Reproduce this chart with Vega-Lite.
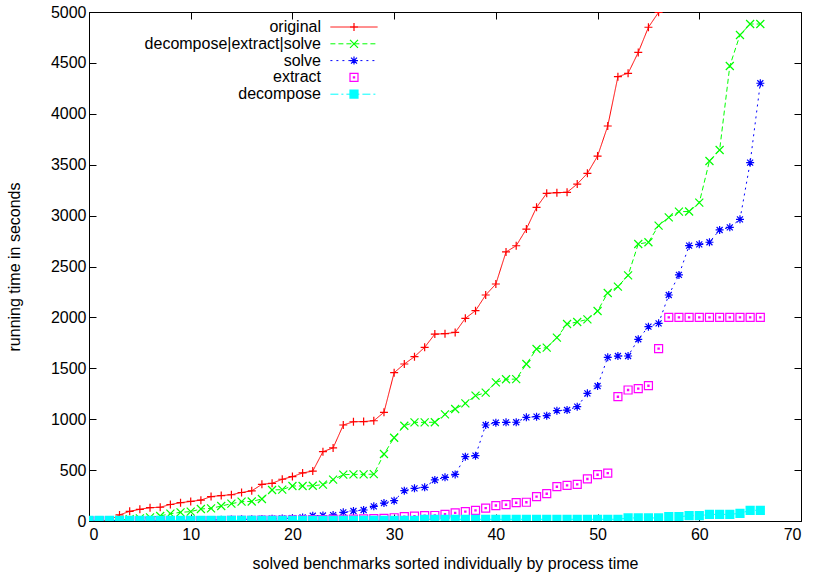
{
 "$schema": "https://vega.github.io/schema/vega-lite/v6.json",
 "width": 712, "height": 509,
 "autosize": {"type": "none"},
 "padding": {"left": 89, "top": 12, "right": 12, "bottom": 52},
 "background": "white",
 "config": {
  "view": {"stroke": "black", "strokeWidth": 1},
  "font": "Liberation Sans",
  "axis": {"grid": false, "domain": false, "tickColor": "black", "labelColor": "black", "titleColor": "black", "labelFontSize": 16, "titleFontSize": 16, "titleFontWeight": "normal", "tickSize": -7, "labelFont": "Liberation Sans", "titleFont": "Liberation Sans", "labelPadding": 10, "format": "d"}
 },
 "datasets": {
  "d": [
   {"s":"original","n":0,"t":2},{"s":"original","n":1,"t":3},{"s":"original","n":2,"t":8},{"s":"original","n":3,"t":60},{"s":"original","n":4,"t":95},{"s":"original","n":5,"t":115},{"s":"original","n":6,"t":131},{"s":"original","n":7,"t":135},{"s":"original","n":8,"t":162},{"s":"original","n":9,"t":180},{"s":"original","n":10,"t":192},
   {"s":"original","n":11,"t":205},{"s":"original","n":12,"t":240},{"s":"original","n":13,"t":250},{"s":"original","n":14,"t":258},{"s":"original","n":15,"t":280},{"s":"original","n":16,"t":296},{"s":"original","n":17,"t":360},{"s":"original","n":18,"t":370},{"s":"original","n":19,"t":410},{"s":"original","n":20,"t":436},
   {"s":"original","n":21,"t":472},{"s":"original","n":22,"t":490},{"s":"original","n":23,"t":681},{"s":"original","n":24,"t":718},{"s":"original","n":25,"t":943},{"s":"original","n":26,"t":975},{"s":"original","n":27,"t":977},{"s":"original","n":28,"t":985},{"s":"original","n":29,"t":1068},{"s":"original","n":30,"t":1457},
   {"s":"original","n":31,"t":1542},{"s":"original","n":32,"t":1614},{"s":"original","n":33,"t":1706},{"s":"original","n":34,"t":1836},{"s":"original","n":35,"t":1840},{"s":"original","n":36,"t":1852},{"s":"original","n":37,"t":1991},{"s":"original","n":38,"t":2066},{"s":"original","n":39,"t":2220},{"s":"original","n":40,"t":2328},
   {"s":"original","n":41,"t":2643},{"s":"original","n":42,"t":2704},{"s":"original","n":43,"t":2868},{"s":"original","n":44,"t":3081},{"s":"original","n":45,"t":3219},{"s":"original","n":46,"t":3225},{"s":"original","n":47,"t":3229},{"s":"original","n":48,"t":3310},{"s":"original","n":49,"t":3415},{"s":"original","n":50,"t":3585},
   {"s":"original","n":51,"t":3880},{"s":"original","n":52,"t":4365},{"s":"original","n":53,"t":4398},{"s":"original","n":54,"t":4603},{"s":"original","n":55,"t":4850},{"s":"original","n":56,"t":4997},

   {"s":"decompose|extract|solve","n":0,"t":2},{"s":"decompose|extract|solve","n":1,"t":3},{"s":"decompose|extract|solve","n":2,"t":5},{"s":"decompose|extract|solve","n":3,"t":10},{"s":"decompose|extract|solve","n":4,"t":18},{"s":"decompose|extract|solve","n":5,"t":26},{"s":"decompose|extract|solve","n":6,"t":36},{"s":"decompose|extract|solve","n":7,"t":49},{"s":"decompose|extract|solve","n":8,"t":72},{"s":"decompose|extract|solve","n":9,"t":85},{"s":"decompose|extract|solve","n":10,"t":92},
   {"s":"decompose|extract|solve","n":11,"t":118},{"s":"decompose|extract|solve","n":12,"t":124},{"s":"decompose|extract|solve","n":13,"t":147},{"s":"decompose|extract|solve","n":14,"t":170},{"s":"decompose|extract|solve","n":15,"t":190},{"s":"decompose|extract|solve","n":16,"t":192},{"s":"decompose|extract|solve","n":17,"t":216},{"s":"decompose|extract|solve","n":18,"t":305},{"s":"decompose|extract|solve","n":19,"t":308},{"s":"decompose|extract|solve","n":20,"t":344},
   {"s":"decompose|extract|solve","n":21,"t":344},{"s":"decompose|extract|solve","n":22,"t":346},{"s":"decompose|extract|solve","n":23,"t":358},{"s":"decompose|extract|solve","n":24,"t":406},{"s":"decompose|extract|solve","n":25,"t":455},{"s":"decompose|extract|solve","n":26,"t":458},{"s":"decompose|extract|solve","n":27,"t":458},{"s":"decompose|extract|solve","n":28,"t":460},{"s":"decompose|extract|solve","n":29,"t":658},{"s":"decompose|extract|solve","n":30,"t":818},
   {"s":"decompose|extract|solve","n":31,"t":936},{"s":"decompose|extract|solve","n":32,"t":969},{"s":"decompose|extract|solve","n":33,"t":969},{"s":"decompose|extract|solve","n":34,"t":970},{"s":"decompose|extract|solve","n":35,"t":1048},{"s":"decompose|extract|solve","n":36,"t":1100},{"s":"decompose|extract|solve","n":37,"t":1156},{"s":"decompose|extract|solve","n":38,"t":1231},{"s":"decompose|extract|solve","n":39,"t":1261},{"s":"decompose|extract|solve","n":40,"t":1362},
   {"s":"decompose|extract|solve","n":41,"t":1392},{"s":"decompose|extract|solve","n":42,"t":1394},{"s":"decompose|extract|solve","n":43,"t":1542},{"s":"decompose|extract|solve","n":44,"t":1690},{"s":"decompose|extract|solve","n":45,"t":1703},{"s":"decompose|extract|solve","n":46,"t":1801},{"s":"decompose|extract|solve","n":47,"t":1935},{"s":"decompose|extract|solve","n":48,"t":1955},{"s":"decompose|extract|solve","n":49,"t":1981},{"s":"decompose|extract|solve","n":50,"t":2063},
   {"s":"decompose|extract|solve","n":51,"t":2240},{"s":"decompose|extract|solve","n":52,"t":2302},{"s":"decompose|extract|solve","n":53,"t":2413},{"s":"decompose|extract|solve","n":54,"t":2721},{"s":"decompose|extract|solve","n":55,"t":2738},{"s":"decompose|extract|solve","n":56,"t":2901},{"s":"decompose|extract|solve","n":57,"t":2983},{"s":"decompose|extract|solve","n":58,"t":3039},{"s":"decompose|extract|solve","n":59,"t":3040},{"s":"decompose|extract|solve","n":60,"t":3127},
   {"s":"decompose|extract|solve","n":61,"t":3536},{"s":"decompose|extract|solve","n":62,"t":3644},{"s":"decompose|extract|solve","n":63,"t":4470},{"s":"decompose|extract|solve","n":64,"t":4774},{"s":"decompose|extract|solve","n":65,"t":4882},{"s":"decompose|extract|solve","n":66,"t":4882},

   {"s":"solve","n":0,"t":1},{"s":"solve","n":1,"t":1},{"s":"solve","n":2,"t":2},{"s":"solve","n":3,"t":2},{"s":"solve","n":4,"t":3},{"s":"solve","n":5,"t":3},{"s":"solve","n":6,"t":4},{"s":"solve","n":7,"t":5},{"s":"solve","n":8,"t":5},{"s":"solve","n":9,"t":6},{"s":"solve","n":10,"t":7},
   {"s":"solve","n":11,"t":8},{"s":"solve","n":12,"t":10},{"s":"solve","n":13,"t":12},{"s":"solve","n":14,"t":14},{"s":"solve","n":15,"t":16},{"s":"solve","n":16,"t":18},{"s":"solve","n":17,"t":20},{"s":"solve","n":18,"t":22},{"s":"solve","n":19,"t":25},{"s":"solve","n":20,"t":28},
   {"s":"solve","n":21,"t":35},{"s":"solve","n":22,"t":52},{"s":"solve","n":23,"t":54},{"s":"solve","n":24,"t":58},{"s":"solve","n":25,"t":85},{"s":"solve","n":26,"t":98},{"s":"solve","n":27,"t":108},{"s":"solve","n":28,"t":144},{"s":"solve","n":29,"t":176},{"s":"solve","n":30,"t":200},
   {"s":"solve","n":31,"t":298},{"s":"solve","n":32,"t":321},{"s":"solve","n":33,"t":331},{"s":"solve","n":34,"t":403},{"s":"solve","n":35,"t":429},{"s":"solve","n":36,"t":458},{"s":"solve","n":37,"t":632},{"s":"solve","n":38,"t":642},{"s":"solve","n":39,"t":943},{"s":"solve","n":40,"t":966},
   {"s":"solve","n":41,"t":969},{"s":"solve","n":42,"t":970},{"s":"solve","n":43,"t":1018},{"s":"solve","n":44,"t":1025},{"s":"solve","n":45,"t":1035},{"s":"solve","n":46,"t":1084},{"s":"solve","n":47,"t":1090},{"s":"solve","n":48,"t":1123},{"s":"solve","n":49,"t":1254},{"s":"solve","n":50,"t":1326},
   {"s":"solve","n":51,"t":1608},{"s":"solve","n":52,"t":1621},{"s":"solve","n":53,"t":1621},{"s":"solve","n":54,"t":1785},{"s":"solve","n":55,"t":1909},{"s":"solve","n":56,"t":1942},{"s":"solve","n":57,"t":2220},{"s":"solve","n":58,"t":2417},{"s":"solve","n":59,"t":2705},{"s":"solve","n":60,"t":2718},
   {"s":"solve","n":61,"t":2738},{"s":"solve","n":62,"t":2859},{"s":"solve","n":63,"t":2885},{"s":"solve","n":64,"t":2963},{"s":"solve","n":65,"t":3520},{"s":"solve","n":66,"t":4300},

   {"s":"extract","n":0,"t":1},{"s":"extract","n":1,"t":1},{"s":"extract","n":2,"t":1},{"s":"extract","n":3,"t":2},{"s":"extract","n":4,"t":2},{"s":"extract","n":5,"t":2},{"s":"extract","n":6,"t":2},{"s":"extract","n":7,"t":3},{"s":"extract","n":8,"t":3},{"s":"extract","n":9,"t":3},{"s":"extract","n":10,"t":4},
   {"s":"extract","n":11,"t":4},{"s":"extract","n":12,"t":5},{"s":"extract","n":13,"t":5},{"s":"extract","n":14,"t":6},{"s":"extract","n":15,"t":6},{"s":"extract","n":16,"t":7},{"s":"extract","n":17,"t":8},{"s":"extract","n":18,"t":9},{"s":"extract","n":19,"t":10},{"s":"extract","n":20,"t":11},
   {"s":"extract","n":21,"t":12},{"s":"extract","n":22,"t":13},{"s":"extract","n":23,"t":14},{"s":"extract","n":24,"t":16},{"s":"extract","n":25,"t":17},{"s":"extract","n":26,"t":19},{"s":"extract","n":27,"t":21},{"s":"extract","n":28,"t":23},{"s":"extract","n":29,"t":26},{"s":"extract","n":30,"t":32},
   {"s":"extract","n":31,"t":42},{"s":"extract","n":32,"t":48},{"s":"extract","n":33,"t":52},{"s":"extract","n":34,"t":54},{"s":"extract","n":35,"t":66},{"s":"extract","n":36,"t":80},{"s":"extract","n":37,"t":92},{"s":"extract","n":38,"t":104},{"s":"extract","n":39,"t":126},{"s":"extract","n":40,"t":152},
   {"s":"extract","n":41,"t":160},{"s":"extract","n":42,"t":180},{"s":"extract","n":43,"t":184},{"s":"extract","n":44,"t":239},{"s":"extract","n":45,"t":268},{"s":"extract","n":46,"t":337},{"s":"extract","n":47,"t":350},{"s":"extract","n":48,"t":360},{"s":"extract","n":49,"t":413},{"s":"extract","n":50,"t":455},
   {"s":"extract","n":51,"t":470},{"s":"extract","n":52,"t":1221},{"s":"extract","n":53,"t":1287},{"s":"extract","n":54,"t":1300},{"s":"extract","n":55,"t":1329},{"s":"extract","n":56,"t":1693},{"s":"extract","n":57,"t":2000},{"s":"extract","n":58,"t":2000},{"s":"extract","n":59,"t":2000},{"s":"extract","n":60,"t":2000},
   {"s":"extract","n":61,"t":2000},{"s":"extract","n":62,"t":2000},{"s":"extract","n":63,"t":2000},{"s":"extract","n":64,"t":2000},{"s":"extract","n":65,"t":2000},{"s":"extract","n":66,"t":2000},

   {"s":"decompose","n":0,"t":6},{"s":"decompose","n":1,"t":6},{"s":"decompose","n":2,"t":6},{"s":"decompose","n":3,"t":6},{"s":"decompose","n":4,"t":6},{"s":"decompose","n":5,"t":6},{"s":"decompose","n":6,"t":6},{"s":"decompose","n":7,"t":6},{"s":"decompose","n":8,"t":6},{"s":"decompose","n":9,"t":6},{"s":"decompose","n":10,"t":6},
   {"s":"decompose","n":11,"t":6},{"s":"decompose","n":12,"t":6},{"s":"decompose","n":13,"t":6},{"s":"decompose","n":14,"t":6},{"s":"decompose","n":15,"t":6},{"s":"decompose","n":16,"t":6},{"s":"decompose","n":17,"t":6},{"s":"decompose","n":18,"t":6},{"s":"decompose","n":19,"t":6},{"s":"decompose","n":20,"t":6},
   {"s":"decompose","n":21,"t":6},{"s":"decompose","n":22,"t":6},{"s":"decompose","n":23,"t":6},{"s":"decompose","n":24,"t":6},{"s":"decompose","n":25,"t":6},{"s":"decompose","n":26,"t":6},{"s":"decompose","n":27,"t":6},{"s":"decompose","n":28,"t":6},{"s":"decompose","n":29,"t":6},{"s":"decompose","n":30,"t":6},
   {"s":"decompose","n":31,"t":6},{"s":"decompose","n":32,"t":6},{"s":"decompose","n":33,"t":17},{"s":"decompose","n":34,"t":17},{"s":"decompose","n":35,"t":17},{"s":"decompose","n":36,"t":17},{"s":"decompose","n":37,"t":17},{"s":"decompose","n":38,"t":17},{"s":"decompose","n":39,"t":17},{"s":"decompose","n":40,"t":17},
   {"s":"decompose","n":41,"t":17},{"s":"decompose","n":42,"t":17},{"s":"decompose","n":43,"t":17},{"s":"decompose","n":44,"t":17},{"s":"decompose","n":45,"t":17},{"s":"decompose","n":46,"t":17},{"s":"decompose","n":47,"t":17},{"s":"decompose","n":48,"t":17},{"s":"decompose","n":49,"t":17},{"s":"decompose","n":50,"t":17},
   {"s":"decompose","n":51,"t":17},{"s":"decompose","n":52,"t":17},{"s":"decompose","n":53,"t":30},{"s":"decompose","n":54,"t":30},{"s":"decompose","n":55,"t":30},{"s":"decompose","n":56,"t":30},{"s":"decompose","n":57,"t":42},{"s":"decompose","n":58,"t":42},{"s":"decompose","n":59,"t":52},{"s":"decompose","n":60,"t":52},
   {"s":"decompose","n":61,"t":65},{"s":"decompose","n":62,"t":65},{"s":"decompose","n":63,"t":65},{"s":"decompose","n":64,"t":75},{"s":"decompose","n":65,"t":105},{"s":"decompose","n":66,"t":105}
  ]
 },
 "data": {"name": "d"},
 "layer": [
  {
   "transform": [{"filter": "datum.s !== 'extract'"}],
   "mark": {"type": "line", "strokeWidth": 1, "clip": true},
   "encoding": {
    "x": {"field": "n", "type": "quantitative", "scale": {"domain": [0, 70], "nice": false, "zero": false},
          "axis": {"orient": "bottom", "values": [0,10,20,30,40,50,60,70], "title": "solved benchmarks sorted individually by process time", "labelPadding": 12, "titlePadding": 13}},
    "y": {"field": "t", "type": "quantitative", "scale": {"domain": [0, 5000], "nice": false},
          "axis": {"orient": "left", "values": [0,500,1000,1500,2000,2500,3000,3500,4000,4500,5000], "title": "running time in seconds", "titlePadding": 28}},
    "color": {"field": "s", "type": "nominal",
      "scale": {"domain": ["original","decompose|extract|solve","solve","extract","decompose"], "range": ["#ff0000","#00ff00","#0000ff","#ff00ff","#00ffff"]},
      "legend": {"orient": "none", "legendX": 257, "legendY": 7, "direction": "vertical", "title": null, "labelAlign": "right", "labelOffset": -41, "labelFontSize": 16, "labelFont": "Liberation Sans", "labelColor": "black", "labelLimit": 400, "symbolSize": 64, "symbolStrokeWidth": 1, "rowPadding": 0.8, "padding": 0,
        "encode": {"symbols": {"update": {"shape": {"value": "M-5.9,0H5.9"}, "fill": {"value": "transparent"}, "strokeOpacity": {"signal": "datum.value === 'extract' ? 0 : 1"}}}}}},
    "strokeDash": {"field": "s", "type": "nominal",
      "scale": {"domain": ["original","decompose|extract|solve","solve","extract","decompose"], "range": [[1,0],[5,3],[2,4],[1,0],[8,3,2,3]]},
      "legend": {"orient": "none", "legendX": 257, "legendY": 7, "direction": "vertical", "title": null, "labelAlign": "right", "labelOffset": -41, "labelFontSize": 16, "labelFont": "Liberation Sans", "labelColor": "black", "labelLimit": 400, "symbolSize": 64, "symbolStrokeWidth": 1, "rowPadding": 0.8, "padding": 0,
        "encode": {"symbols": {"update": {"shape": {"value": "M-5.9,0H5.9"}, "fill": {"value": "transparent"}, "strokeOpacity": {"signal": "datum.value === 'extract' ? 0 : 1"}}}}}}
   }
  },
  {
   "mark": {"type": "point", "filled": false, "strokeWidth": 1.2, "size": 64, "opacity": 1, "clip": true},
   "encoding": {
    "x": {"field": "n", "type": "quantitative", "axis": {"orient": "top", "values": [0,10,20,30,40,50,60,70], "labels": false, "title": null}},
    "y": {"field": "t", "type": "quantitative", "axis": {"orient": "right", "values": [0,500,1000,1500,2000,2500,3000,3500,4000,4500,5000], "labels": false, "title": null}},
    "color": {"field": "s", "type": "nominal",
      "legend": {"orient": "none", "legendX": 257, "legendY": 7, "direction": "vertical", "title": null, "labelAlign": "right", "labelOffset": -41, "labelFontSize": 16, "labelFont": "Liberation Sans", "labelColor": "black", "labelOpacity": 0, "labelLimit": 400, "symbolSize": 64, "symbolStrokeWidth": 1.2, "rowPadding": 0.8, "padding": 0,
        "encode": {"symbols": {"update": {"fill": {"value": "transparent"}, "opacity": {"value": 1}}}}}},
    "shape": {"field": "s", "type": "nominal",
      "scale": {"domain": ["original","decompose|extract|solve","solve","extract","decompose"],
                "range": ["M-1,0H1M0,-1V1", "M-1,-1L1,1M-1,1L1,-1", "M-1,0H1M0,-1V1M-0.75,-0.75L0.75,0.75M-0.75,0.75L0.75,-0.75", "M-1,-1H1V1H-1ZM-0.15,-0.15H0.15V0.15H-0.15Z", "M-1,-1H1V1H-1ZM-1,-0.75H1M-1,-0.5H1M-1,-0.25H1M-1,0H1M-1,0.25H1M-1,0.5H1M-1,0.75H1"]},
      "legend": {"orient": "none", "legendX": 257, "legendY": 7, "direction": "vertical", "title": null, "labelAlign": "right", "labelOffset": -41, "labelFontSize": 16, "labelFont": "Liberation Sans", "labelColor": "black", "labelOpacity": 0, "labelLimit": 400, "symbolSize": 64, "symbolStrokeWidth": 1.2, "rowPadding": 0.8, "padding": 0,
        "encode": {"symbols": {"update": {"fill": {"value": "transparent"}, "opacity": {"value": 1}}}}}}
   }
  }
 ],
 "resolve": {"axis": {"x": "independent", "y": "independent"}, "legend": {"color": "independent", "strokeDash": "independent", "shape": "independent"}}
}
